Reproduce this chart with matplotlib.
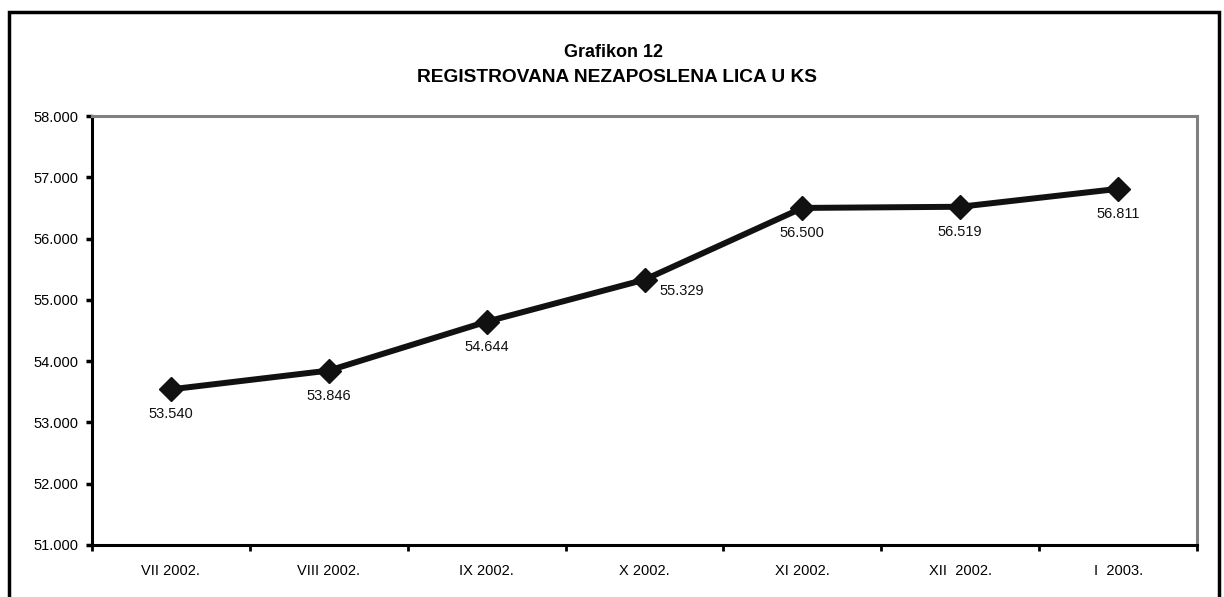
import matplotlib
matplotlib.use('Agg')
import matplotlib.pyplot as plt
from matplotlib.patches import Rectangle
from matplotlib.ticker import FuncFormatter, FixedLocator
import numpy as np

plt.rcParams['font.family'] = ['Liberation Sans', 'DejaVu Sans']

# podaci
months = ['VII 2002.', 'VIII 2002.', 'IX 2002.', 'X 2002.', 'XI 2002.', 'XII  2002.', 'I  2003.']
unemployed = [53540, 53846, 54644, 55329, 56500, 56519, 56811]
y_ticks = [51000, 52000, 53000, 54000, 55000, 56000, 57000, 58000]
title_lines = ['Grafikon 12', 'REGISTROVANA NEZAPOSLENA LICA U KS']


def fmt_thousands(v, pos=None):
    return f'{v:,.0f}'.replace(',', '.')


W, H = 1224, 597
fig = plt.figure(figsize=(W / 100, H / 100), dpi=100)
ax = fig.add_axes([92 / W, 1 - 545 / H, (1197 - 92) / W, (545 - 116) / H])

x = np.arange(len(months))
ax.plot(x, unemployed, color='#111111', linewidth=4.3, marker='D',
        markersize=12, markerfacecolor='#111111', markeredgecolor='#111111',
        solid_joinstyle='miter', zorder=3)

# oznake vrijednosti (X 2002. je pomaknut udesno)
offsets = {3: (37, -11)}
for i, v in enumerate(unemployed):
    dx, dy = offsets.get(i, (0, -25))
    ax.annotate(fmt_thousands(v), (x[i], v), xytext=(dx * 0.72, dy * 0.72),
                textcoords='offset points', ha='center', va='center',
                fontsize=10.5, color='#111111')

ax.set_xlim(-0.5, len(months) - 0.5)
ax.set_ylim(y_ticks[0], y_ticks[-1])
ax.set_yticks(y_ticks)
ax.yaxis.set_major_formatter(FuncFormatter(fmt_thousands))
ax.set_xticks(x)
ax.set_xticklabels(months)
ax.xaxis.set_minor_locator(FixedLocator(np.arange(-0.5, len(months), 1.0)))
ax.tick_params(axis='x', which='major', length=0, pad=14, labelsize=10.5)
ax.tick_params(axis='x', which='minor', length=4, width=2, direction='out')
ax.tick_params(axis='y', length=4, width=2.5, direction='out', pad=6, labelsize=10.5)

for side in ['left', 'bottom']:
    ax.spines[side].set_color('black')
    ax.spines[side].set_linewidth(2.2)
for side in ['top', 'right']:
    ax.spines[side].set_color('#808080')
    ax.spines[side].set_linewidth(2.2)

fig.text(614 / W, 1 - 57 / H, title_lines[0], ha='center', va='baseline',
         fontsize=13, fontweight='bold')
fig.text(617 / W, 1 - 82 / H, title_lines[1], ha='center', va='baseline',
         fontsize=13.8, fontweight='bold')

# vanjski okvir (donja ivica izvan slike)
fig.patches.append(Rectangle((9 / W, -0.1), (1219 - 9) / W, 1.1 - 12 / H,
                             transform=fig.transFigure, fill=False,
                             edgecolor='black', linewidth=2.5))

fig.savefig('out.png', dpi=100)
